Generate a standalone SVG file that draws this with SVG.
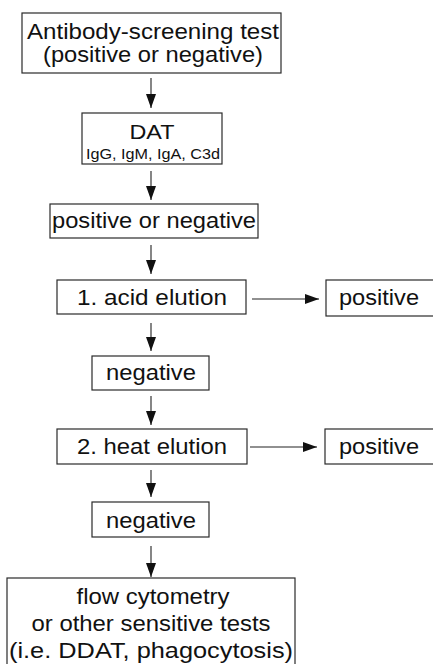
<svg xmlns="http://www.w3.org/2000/svg" width="433" height="664" viewBox="0 0 433 664">
<defs>
<style>
.box{fill:#fff;stroke:#2a2a2a;stroke-width:1.2}
.t{font-family:"Liberation Sans",Arial,sans-serif;font-size:22px;fill:#111;text-anchor:middle}
.s{font-size:14.5px}
.d{font-size:21px}
.c{stroke:#222;stroke-width:1.1;fill:none}
</style>
<marker id="ah" markerWidth="14" markerHeight="10" refX="14" refY="5" orient="auto" markerUnits="userSpaceOnUse">
<path d="M0,0 L14,5 L0,10 Z" fill="#111"/>
</marker>
</defs>
<rect width="433" height="664" fill="#fff"/>
<g id="connectors">
<line class="c" x1="151" y1="78" x2="151" y2="108" marker-end="url(#ah)"/>
<line class="c" x1="151" y1="171" x2="151" y2="200" marker-end="url(#ah)"/>
<line class="c" x1="151" y1="245" x2="151" y2="274" marker-end="url(#ah)"/>
<line class="c" x1="151" y1="323" x2="151" y2="351" marker-end="url(#ah)"/>
<line class="c" x1="151" y1="396" x2="151" y2="425" marker-end="url(#ah)"/>
<line class="c" x1="151" y1="470" x2="151" y2="497" marker-end="url(#ah)"/>
<line class="c" x1="151" y1="546" x2="151" y2="577" marker-end="url(#ah)"/>
<line class="c" x1="252" y1="299" x2="319" y2="299" marker-end="url(#ah)"/>
<line class="c" x1="250" y1="447" x2="317" y2="447" marker-end="url(#ah)"/>
</g>
<g id="n1">
<rect class="box" x="22" y="13" width="259" height="60"/>
<text class="t" x="153" y="39" textLength="252" lengthAdjust="spacingAndGlyphs">Antibody-screening test</text>
<text class="t" x="153" y="62" textLength="220" lengthAdjust="spacingAndGlyphs">(positive or negative)</text>
</g>
<g id="n2">
<rect class="box" x="82" y="113" width="140" height="51"/>
<text class="t d" x="152" y="139" textLength="45" lengthAdjust="spacingAndGlyphs">DAT</text>
<text class="t s" x="153" y="159" textLength="134" lengthAdjust="spacingAndGlyphs">IgG, IgM, IgA, C3d</text>
</g>
<g id="n3">
<rect class="box" x="50" y="204" width="208" height="34"/>
<text class="t" x="154" y="228" textLength="204" lengthAdjust="spacingAndGlyphs">positive or negative</text>
</g>
<g id="n4">
<rect class="box" x="57" y="280" width="189" height="34"/>
<text class="t" x="152" y="305" textLength="150" lengthAdjust="spacingAndGlyphs">1. acid elution</text>
</g>
<g id="n5">
<rect class="box" x="326" y="280" width="115" height="36"/>
<text class="t" x="379" y="305" textLength="80" lengthAdjust="spacingAndGlyphs">positive</text>
</g>
<g id="n6">
<rect class="box" x="92" y="356" width="117" height="34"/>
<text class="t" x="151" y="380" textLength="90" lengthAdjust="spacingAndGlyphs">negative</text>
</g>
<g id="n7">
<rect class="box" x="57" y="429" width="190" height="35"/>
<text class="t" x="152" y="454" textLength="150" lengthAdjust="spacingAndGlyphs">2. heat elution</text>
</g>
<g id="n8">
<rect class="box" x="325" y="429" width="116" height="35"/>
<text class="t" x="379" y="454" textLength="80" lengthAdjust="spacingAndGlyphs">positive</text>
</g>
<g id="n9">
<rect class="box" x="92" y="502" width="117" height="35"/>
<text class="t" x="151" y="528" textLength="90" lengthAdjust="spacingAndGlyphs">negative</text>
</g>
<g id="n10">
<rect class="box" x="7" y="578" width="288" height="100"/>
<text class="t" x="153" y="604" textLength="153" lengthAdjust="spacingAndGlyphs">flow cytometry</text>
<text class="t" x="151" y="631" textLength="239" lengthAdjust="spacingAndGlyphs">or other sensitive tests</text>
<text class="t" x="151" y="658" textLength="284" lengthAdjust="spacingAndGlyphs">(i.e. DDAT, phagocytosis)</text>
</g>
</svg>
